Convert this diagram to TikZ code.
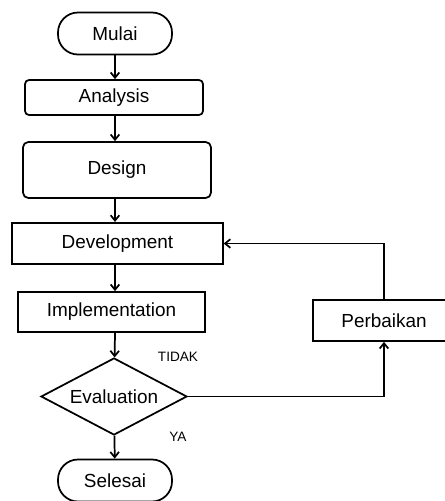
\documentclass[tikz,border=0pt]{standalone}
\usepackage{fontspec}
\setmainfont{Liberation Sans}
\usetikzlibrary{shapes.geometric,arrows.meta}

\begin{document}
\begin{tikzpicture}[x=0.75pt,y=-0.75pt,
    every node/.style={font=\fontsize{14.2}{16}\selectfont, inner sep=0pt},
    terminal/.style={draw, line width=1.3pt, rounded corners=15pt, minimum width=85.5pt, minimum height=31.5pt},
    process/.style={draw, line width=1.3pt, minimum height=30pt},
    decision/.style={draw, line width=1.3pt, diamond, aspect=1.9, minimum width=109.5pt, minimum height=57.75pt},
    lbl/.style={font=\fontsize{10.2}{12}\selectfont},
    arr/.style={line width=1.3pt, -{Straight Barb[length=4pt,width=6.5pt]}}]
    \useasboundingbox (0,0) rectangle (445,501);
    % alur utama
    \node[terminal] (mulai) at (115,33.5) {Mulai};
    \node[process, rounded corners=3pt, minimum width=133.5pt, minimum height=26.25pt] (analysis) at (114,97.5) {Analysis};
    \node[process, rounded corners=4pt, minimum width=141pt, minimum height=42pt] (design) at (117,170) {Design};
    \node[process, minimum width=158pt, minimum height=31pt] (dev) at (117.5,243.5) {Development};
    \node[process, minimum width=140pt] (impl) at (111.5,312) {Implementation};
    \node[decision] (eval) at (114,396.5) {Evaluation};
    \node[terminal] (selesai) at (115,480.5) {Selesai};
    \node[process, minimum width=106.5pt, minimum height=30.75pt] (perb) at (384,320.5) {Perbaikan};
    \node[lbl] (tidak) at (178,357) {TIDAK};
    \node[lbl] (ya) at (178,437) {YA};

    \draw[arr] (mulai) -- (mulai |- analysis.north);
    \draw[arr] (mulai |- analysis.south) -- (mulai |- design.north);
    \draw[arr] (mulai |- design.south) -- (mulai |- dev.north);
    \draw[arr] (mulai |- dev.south) -- (mulai |- impl.north);
    \draw[arr] (mulai |- impl.south) -- (eval);
    \draw[arr] (eval) -- (selesai);
    % perbaikan
    \draw[arr] (eval.east) -| (perb.south);
    \draw[arr] (perb.north) |- (dev.east);
\end{tikzpicture}
\end{document}
